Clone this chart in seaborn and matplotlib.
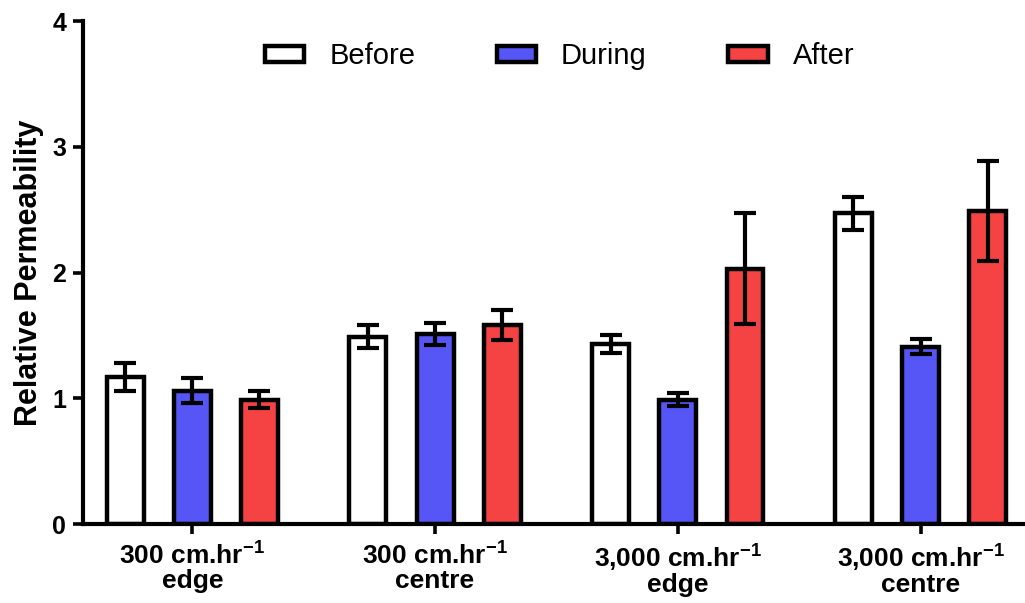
import seaborn as sns
import pandas as pd
import numpy as np
import matplotlib.pyplot as plt

# data
groups = ["300 cm.hr$^{\\mathbf{-1}}$\nedge", "300 cm.hr$^{\\mathbf{-1}}$\ncentre",
          "3,000 cm.hr$^{\\mathbf{-1}}$\nedge", "3,000 cm.hr$^{\\mathbf{-1}}$\ncentre"]
phases = ["Before", "During", "After"]
before = [1.17, 1.49, 1.43, 2.47]
during = [1.06, 1.51, 0.99, 1.41]
after = [0.99, 1.58, 2.03, 2.49]
before_err = [0.11, 0.09, 0.07, 0.13]
during_err = [0.10, 0.09, 0.05, 0.06]
after_err = [0.07, 0.12, 0.44, 0.40]
colors = ["#FFFFFF", "#5656F7", "#F54343"]

df = pd.DataFrame({
    "group": groups * 3,
    "phase": np.repeat(phases, len(groups)),
    "value": before + during + after,
})

sns.set_style("ticks")
plt.rcParams["font.family"] = ["Liberation Sans", "DejaVu Sans"]
plt.rcParams["mathtext.fontset"] = "custom"
plt.rcParams["mathtext.rm"] = "Liberation Sans"
plt.rcParams["mathtext.bf"] = "Liberation Sans:bold"
for k in ["text.color", "axes.labelcolor", "xtick.color", "ytick.color", "axes.edgecolor"]:
    plt.rcParams[k] = "black"

fig = plt.figure(figsize=(10.25, 6.03), dpi=100)
ax = fig.add_axes([0.081, 0.131, 0.919, 0.834])

sns.barplot(data=df, x="group", y="value", hue="phase", palette=colors,
            width=0.83, gap=0.45, edgecolor="black", linewidth=3.2,
            saturation=1, ax=ax, zorder=2)

# error bars on the bars seaborn drew
for cont, errs in zip(ax.containers, [before_err, during_err, after_err]):
    xs = [p.get_x() + p.get_width() / 2 for p in cont]
    ys = [p.get_height() for p in cont]
    ax.errorbar(xs, ys, yerr=errs, fmt="none", ecolor="black",
                elinewidth=3.0, capsize=8, capthick=3.0, zorder=3)

ax.set_ylim(0, 4)
ax.set_xlim(-0.45, 3.43)
ax.set_yticks([0, 1, 2, 3, 4])
ax.set_ylabel("Relative Permeability", fontsize=22, fontweight="bold", labelpad=6)
ax.set_xlabel("")

sns.despine(ax=ax)
for s in ["left", "bottom"]:
    ax.spines[s].set_linewidth(3.0)
ax.tick_params(axis="y", length=7, width=2.6, pad=5, labelsize=18)
ax.tick_params(axis="x", length=7, width=2.6, pad=5, labelsize=19)
for lab in ax.get_yticklabels():
    lab.set_fontweight("bold")
for lab in ax.get_xticklabels():
    lab.set_fontweight("bold")
    lab.set_linespacing(1.0)

handles, labels = ax.get_legend_handles_labels()
for h in handles:
    h.set_edgecolor("black")
    h.set_linewidth(3.2)
ax.legend(handles, labels, loc="center", bbox_to_anchor=(0.506, 0.93),
          ncol=3, frameon=False, fontsize=21, handlelength=1.35, handleheight=0.45,
          columnspacing=2.8, handletextpad=0.85)

plt.savefig("out.png", dpi=100, facecolor="w")
